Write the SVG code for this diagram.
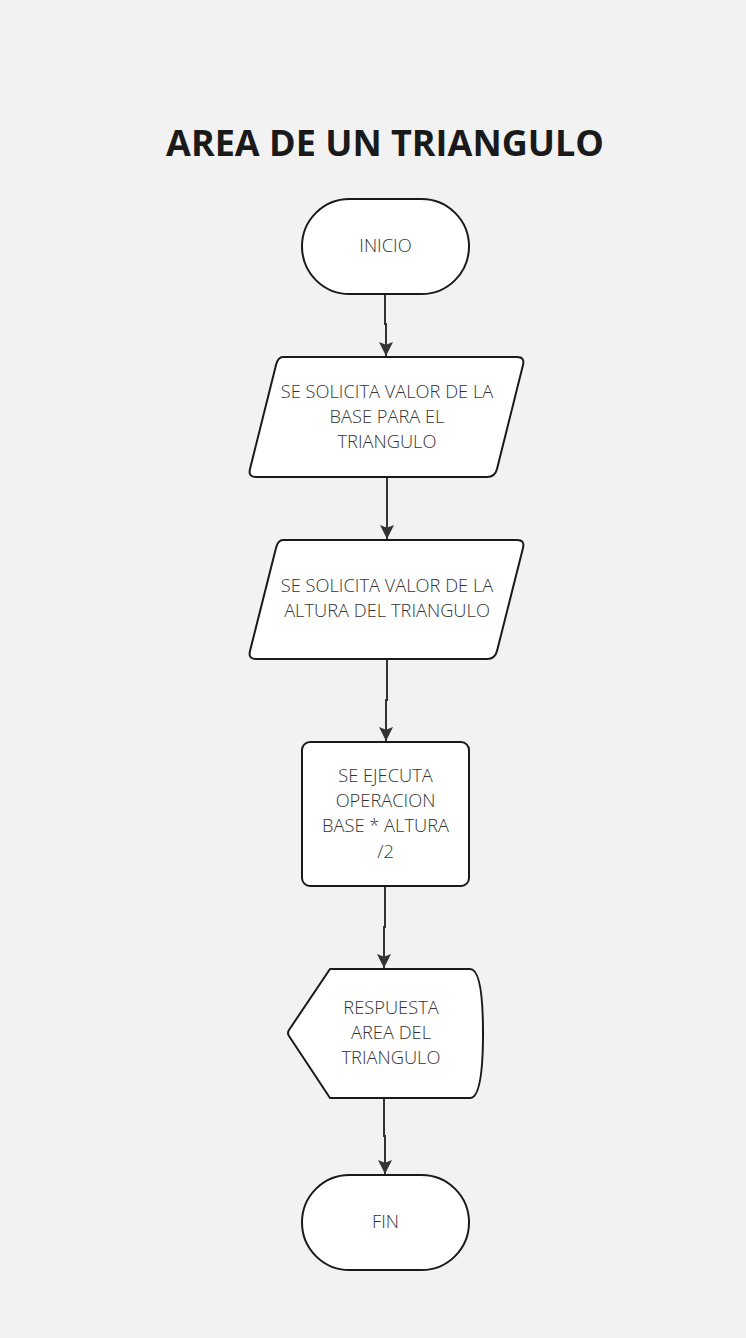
<svg xmlns="http://www.w3.org/2000/svg" width="746" height="1338" viewBox="0 0 746 1338">
<defs>
<style>
.s{fill:#fff;stroke:#1a1a1a;stroke-width:2;stroke-linejoin:round}
.t{font-family:"Open Sans","Liberation Sans",sans-serif;font-size:18.3px;font-weight:300;fill:#333;text-anchor:middle}
.c{fill:none;stroke:#333;stroke-width:2}
</style>
<marker id="ah" viewBox="0 0 10 10" refX="10" refY="5" markerWidth="7" markerHeight="7.5" markerUnits="strokeWidth" orient="auto">
<path d="M0,0 L10,5 L0,10 L2,5 Z" fill="#333"/>
</marker>
</defs>
<rect width="746" height="1338" fill="#f2f2f2"/>
<text x="385" y="156" font-family="'Open Sans','Liberation Sans',sans-serif" font-size="36" font-weight="bold" fill="#1a1a1a" text-anchor="middle">AREA DE UN TRIANGULO</text>
<g id="connectors">
<path class="c" d="M385,294 V324 H386 V356" marker-end="url(#ah)"/>
<path class="c" d="M387,477 V539" marker-end="url(#ah)"/>
<path class="c" d="M387,659 V700 H386 V741" marker-end="url(#ah)"/>
<path class="c" d="M385,886 V927 H384 V968" marker-end="url(#ah)"/>
<path class="c" d="M384,1098 V1136 H385 V1174" marker-end="url(#ah)"/>
</g>
<g id="inicio">
<rect class="s" x="302" y="199" width="167" height="95" rx="47.5"/>
<text class="t" x="385.5" y="252">INICIO</text>
</g>
<g id="entrada-base">
<path class="s" d="M283,357 H517 Q525,357 523,365 L497,469 Q495,477 487,477 H256 Q248,477 250,469 L276,365 Q278,357 283,357 Z"/>
<text class="t" x="387" y="398">SE SOLICITA VALOR DE LA</text>
<text class="t" x="387" y="423">BASE PARA EL</text>
<text class="t" x="387" y="448">TRIANGULO</text>
</g>
<g id="entrada-altura">
<path class="s" d="M283,540 H517 Q525,540 523,548 L497,651 Q495,659 487,659 H256 Q248,659 250,651 L276,548 Q278,540 283,540 Z"/>
<text class="t" x="387" y="592">SE SOLICITA VALOR DE LA</text>
<text class="t" x="387" y="617">ALTURA DEL TRIANGULO</text>
</g>
<g id="proceso">
<rect class="s" x="302" y="742" width="167" height="144" rx="8"/>
<text class="t" x="385.5" y="782">SE EJECUTA</text>
<text class="t" x="385.5" y="807">OPERACION</text>
<text class="t" x="385.5" y="832">BASE * ALTURA</text>
<text class="t" x="385.5" y="858">/2</text>
</g>
<g id="salida">
<path class="s" d="M330,969 H470 Q483,969 483,1033 Q483,1098 470,1098 H330 L289,1036 Q287,1033 289,1030 Z"/>
<text class="t" x="391" y="1014">RESPUESTA</text>
<text class="t" x="391" y="1039">AREA DEL</text>
<text class="t" x="391" y="1064">TRIANGULO</text>
</g>
<g id="fin">
<rect class="s" x="302" y="1175" width="167" height="95" rx="47.5"/>
<text class="t" x="385.5" y="1228">FIN</text>
</g>
</svg>
